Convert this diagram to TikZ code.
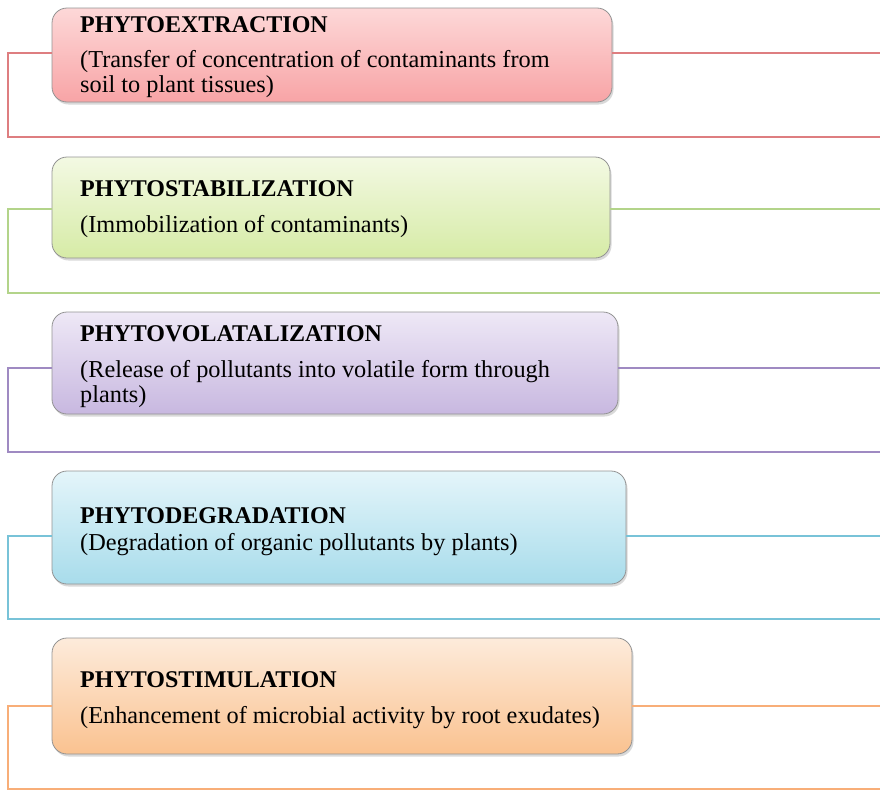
\documentclass[tikz,border=0pt]{standalone}
\usepackage{fontspec}
\setmainfont{Liberation Serif}
\usepackage{tikz}
\usetikzlibrary{shadows}

\definecolor{redtop}{HTML}{FDD8D8}
\definecolor{redbot}{HTML}{F8A4A6}
\definecolor{redline}{HTML}{DE7E80}
\definecolor{greentop}{HTML}{F3F9E3}
\definecolor{greenbot}{HTML}{D6EBA6}
\definecolor{greenline}{HTML}{B3D48A}
\definecolor{purpletop}{HTML}{EEE8F6}
\definecolor{purplebot}{HTML}{C8B8E0}
\definecolor{purpleline}{HTML}{9F8AC2}
\definecolor{bluetop}{HTML}{E4F5FA}
\definecolor{bluebot}{HTML}{A8DCEB}
\definecolor{blueline}{HTML}{78C3D8}
\definecolor{orangetop}{HTML}{FDEBDB}
\definecolor{orangebot}{HTML}{FAC290}
\definecolor{orangeline}{HTML}{F8AE78}

\tikzset{
  phytobox/.style={draw=gray!85, line width=0.8pt, rounded corners=15pt, inner sep=0pt,
    drop shadow={shadow xshift=1.5pt, shadow yshift=-2.5pt, opacity=0.3}},
  headtext/.style={anchor=base west, inner sep=0pt, font=\fontsize{24}{25}\selectfont\bfseries},
  bodytext/.style={anchor=base west, inner sep=0pt, align=left, font=\fontsize{24.3}{25}\selectfont},
  frameline/.style={line width=1.1pt}
}

\begin{document}
\begin{tikzpicture}[x=1pt, y=-1pt]
    \useasboundingbox (0,0) rectangle (880,790);

    % boxes
    \node[phytobox, top color=redtop, bottom color=redbot, minimum width=560pt, minimum height=94pt] (extr) at (332,55) {};
    \node[phytobox, top color=greentop, bottom color=greenbot, minimum width=558pt, minimum height=101pt] (stab) at (331,207.5) {};
    \node[phytobox, top color=purpletop, bottom color=purplebot, minimum width=566pt, minimum height=102pt] (vola) at (335,363) {};
    \node[phytobox, top color=bluetop, bottom color=bluebot, minimum width=574pt, minimum height=113pt] (degr) at (339,527.5) {};
    \node[phytobox, top color=orangetop, bottom color=orangebot, minimum width=580pt, minimum height=116pt] (stim) at (342,696) {};

    % texts (two-line texts sit on their last baseline)
    \node[headtext] (extr-h) at (80,32) {PHYTOEXTRACTION};
    \node[bodytext] (extr-b) at (80,92) {(Transfer of concentration of contaminants from\\soil to plant tissues)};
    \node[headtext] (stab-h) at (80,196) {PHYTOSTABILIZATION};
    \node[bodytext] (stab-b) at (80,232) {(Immobilization of contaminants)};
    \node[headtext] (vola-h) at (80,341) {PHYTOVOLATALIZATION};
    \node[bodytext] (vola-b) at (80,402) {(Release of pollutants into volatile form through\\plants)};
    \node[headtext] (degr-h) at (80,523) {PHYTODEGRADATION};
    \node[bodytext] (degr-b) at (80,550) {(Degradation of organic pollutants by plants)};
    \node[headtext] (stim-h) at (80,687) {PHYTOSTIMULATION};
    \node[bodytext] (stim-b) at (80,723) {(Enhancement of microbial activity by root exudates)};

    % frame lines
    \coordinate (extr-a) at (8,53);   \coordinate (extr-c) at (880,137);  \coordinate (extr-d) at (880,53);
    \coordinate (stab-a) at (8,209);  \coordinate (stab-c) at (880,293);  \coordinate (stab-d) at (880,209);
    \coordinate (vola-a) at (8,368);  \coordinate (vola-c) at (880,452);  \coordinate (vola-d) at (880,368);
    \coordinate (degr-a) at (8,536);  \coordinate (degr-c) at (880,619);  \coordinate (degr-d) at (880,536);
    \coordinate (stim-a) at (8,706);  \coordinate (stim-c) at (880,789);  \coordinate (stim-d) at (880,706);

    \draw[frameline, redline] (extr.west |- extr-a) -- (extr-a) |- (extr-c);
    \draw[frameline, redline] (extr.east |- extr-d) -- (extr-d);
    \draw[frameline, greenline] (stab.west |- stab-a) -- (stab-a) |- (stab-c);
    \draw[frameline, greenline] (stab.east |- stab-d) -- (stab-d);
    \draw[frameline, purpleline] (vola.west |- vola-a) -- (vola-a) |- (vola-c);
    \draw[frameline, purpleline] (vola.east |- vola-d) -- (vola-d);
    \draw[frameline, blueline] (degr.west |- degr-a) -- (degr-a) |- (degr-c);
    \draw[frameline, blueline] (degr.east |- degr-d) -- (degr-d);
    \draw[frameline, orangeline] (stim.west |- stim-a) -- (stim-a) |- (stim-c);
    \draw[frameline, orangeline] (stim.east |- stim-d) -- (stim-d);
\end{tikzpicture}
\end{document}
